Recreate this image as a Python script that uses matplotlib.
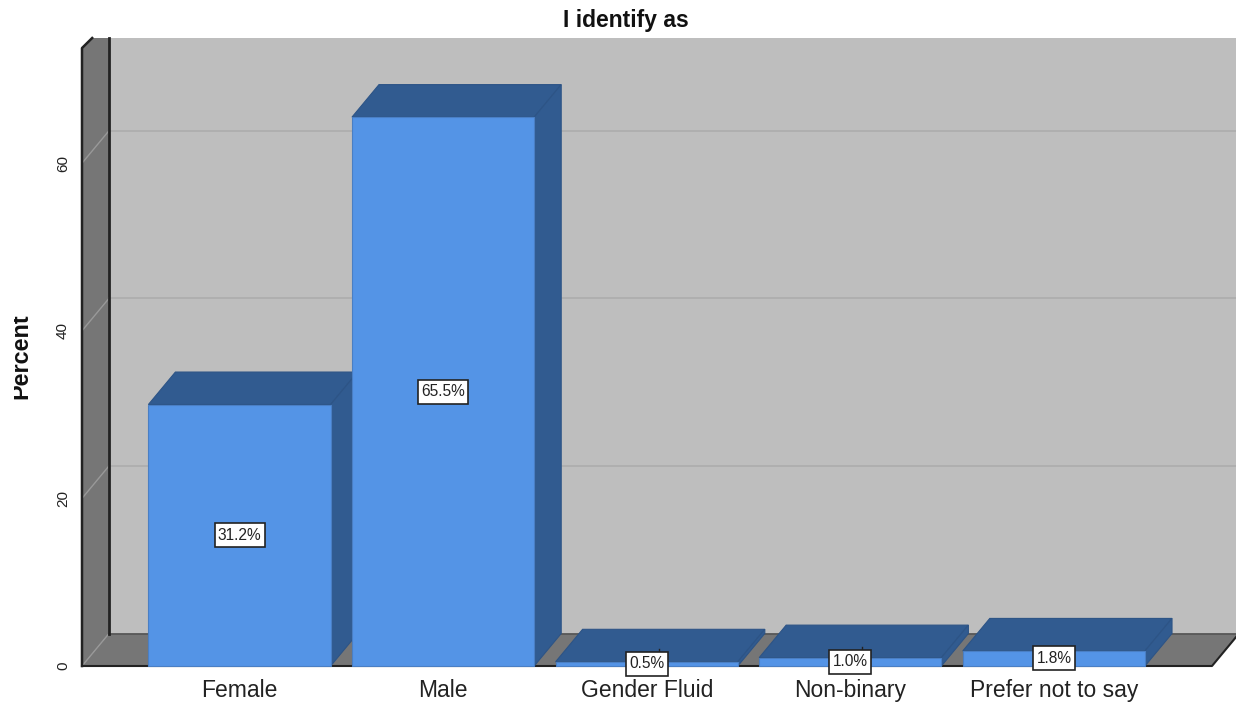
import matplotlib
matplotlib.use("Agg")
import matplotlib.pyplot as plt
from matplotlib.patches import Polygon, Rectangle
from matplotlib.transforms import Bbox

plt.rcParams["font.family"] = ["Liberation Sans", "DejaVu Sans"]

categories = ["Female", "Male", "Gender Fluid", "Non-binary", "Prefer not to say"]
percents = [31.2, 65.5, 0.5, 1.0, 1.8]
y_ticks = [0, 20, 40, 60]

# figure is 1236x704, axes fill it: one category = 203.6 px, one percent = 8.38 px
X_UNIT = 203.6
Y_UNIT = 8.38
X0_PX = 239.5
Y0_PX = 666
BAR_W = 0.895
DX = 27 / X_UNIT    # depth of the 3d box
DY = 32.5 / Y_UNIT
LEFT = (82 - X0_PX) / X_UNIT
RIGHT = (1212 - X0_PX) / X_UNIT
TOP = (Y0_PX - 38) / Y_UNIT

FRONT = "#5494e6"
SHADE = "#315b90"
WALL = "#767676"
BACK = "#bebebe"

fig = plt.figure(figsize=(12.36, 7.04), dpi=100)
ax = fig.add_axes([0, 0, 1, 1])
ax.set_xlim(-X0_PX / X_UNIT, (1236 - X0_PX) / X_UNIT)
ax.set_ylim(-(704 - Y0_PX) / Y_UNIT, Y0_PX / Y_UNIT)
ax.axis("off")

# back wall, side wall, floor
ax.add_patch(Polygon([(LEFT + DX, DY), (RIGHT + 2 * DX, DY), (RIGHT + 2 * DX, TOP), (LEFT + DX, TOP)],
                     fc=BACK, ec="none", zorder=1))
ax.add_patch(Polygon([(LEFT, 0), (LEFT + DX, DY), (LEFT + DX, TOP), (LEFT + 0.05, TOP), (LEFT, TOP - 1.2)],
                     fc=WALL, ec="none", zorder=1))
ax.add_patch(Polygon([(LEFT, 0), (RIGHT, 0), (RIGHT + DX, DY), (LEFT + DX, DY)],
                     fc=WALL, ec="none", zorder=1))

# gridlines run along the back wall and down the side wall
for t in y_ticks[1:]:
    ax.plot([LEFT + DX, RIGHT + 2 * DX], [t + DY, t + DY], color="#adadad", lw=1.2, zorder=2)
    ax.plot([LEFT, LEFT + DX], [t, t + DY], color="#999999", lw=1, zorder=2)
for t in y_ticks:
    ax.text(LEFT - 19 / X_UNIT, t, str(t), rotation=90, ha="center", va="center", fontsize=11, color="#222222")
ax.plot([LEFT, LEFT + DX], [0, DY], color="#999999", lw=1, zorder=2)

# frame edges
ax.plot([LEFT + 0.05, LEFT, LEFT], [TOP, TOP - 1.2, 0], color="#222222", lw=1.8, zorder=3)
ax.plot([LEFT + DX, LEFT + DX], [DY, TOP], color="#222222", lw=2, zorder=3)
ax.plot([LEFT + DX, RIGHT + DX], [DY, DY], color="#555555", lw=1.2, zorder=2)
ax.plot([LEFT, RIGHT, RIGHT + DX], [0, 0, DY], color="#222222", lw=1.5, zorder=3)

# bars: front face from ax.bar, top and side faces added by hand
xs = list(range(len(categories)))
ax.bar(xs, percents, width=BAR_W, color=FRONT, edgecolor="#4a7fc4", linewidth=0.8, zorder=6)
for x, v in zip(xs, percents):
    l = x - BAR_W / 2
    r = x + BAR_W / 2
    ax.add_patch(Polygon([(l, v), (r, v), (r + DX, v + DY), (l + DX, v + DY)],
                         fc=SHADE, ec="#2d5486", lw=0.8, zorder=5))
    ax.add_patch(Polygon([(r, 0), (r + DX, DY), (r + DX, v + DY), (r, v)],
                         fc=SHADE, ec="#2d5486", lw=0.8, zorder=5))

# value labels sit halfway up each bar in a white box
for x, v in zip(xs, percents):
    label = f"{v:.1f}%"
    w = (len(label) * 8 + 10) / X_UNIT
    h = 24 / Y_UNIT
    ax.add_patch(Rectangle((x - w / 2, v / 2 - h / 2), w, h, fc="white", ec="#222222", lw=1.2, zorder=8))
    ax.text(x, v / 2, label, ha="center", va="center", fontsize=11.2, color="#222222", zorder=9)

# short leader ticks above the two labels that overlap their bars
for x, v in zip(xs[2:4], percents[2:4]):
    top = v / 2 + 12 / Y_UNIT
    ax.plot([x + 12 / X_UNIT, x + 12 / X_UNIT], [top, top + 3 / Y_UNIT], color="#222222", lw=1, zorder=7)

for x, name in zip(xs, categories):
    ax.text(x, -2.9, name, ha="center", va="center", fontsize=16.5, color="#222222")

fig.text(626 / 1236, 1 - 20 / 704, "I identify as", ha="center", va="center", fontsize=16.5, fontweight="bold", color="#111111")

# the axis title is cut off along its left side
ylab = fig.text(21 / 1236, 1 - 356.5 / 704, "Percent", rotation=90, ha="center", va="center",
                fontsize=16.8, fontweight="bold", color="#111111")
ylab.set_clip_box(Bbox([[13.5, 0], [60, 704]]))
ylab.set_clip_on(True)

fig.savefig("out.png", dpi=100)
